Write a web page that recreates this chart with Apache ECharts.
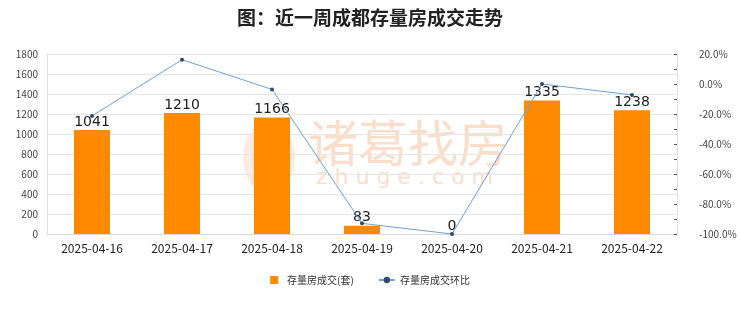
<!DOCTYPE html>
<html><head><meta charset="utf-8">
<script src="https://cdn.jsdelivr.net/npm/echarts@6/dist/echarts.min.js"></script>
<style>html,body{margin:0;padding:0;background:#fff}#c{width:740px;height:312px}</style>
</head><body><div id="c"></div>
<script>
const categories = ['2025-04-16','2025-04-17','2025-04-18','2025-04-19','2025-04-20','2025-04-21','2025-04-22'];
const volume = [1041, 1210, 1166, 83, 0, 1335, 1238];
const ratio = [-21.3, 16.2, -3.6, -92.9, -100, 0, -7.3];
const leftTicks = [0, 200, 400, 600, 800, 1000, 1200, 1400, 1600, 1800];
const rightTicks = [-100, -80, -60, -40, -20, 0, 20];

const chart = echarts.init(document.getElementById('c'));
const font = '"Noto Sans CJK SC", "Noto Sans", sans-serif';
chart.setOption({
  animation: false,
  backgroundColor: '#fff',
  textStyle: { fontFamily: font },
  title: {
    text: '图：近一周成都存量房成交走势', left: 'center', top: 3,
    textStyle: { fontSize: 19, fontWeight: 'bold', color: '#222', fontFamily: font }
  },
  graphic: [
    { type: 'text', left: 308, top: 118, z: -1, silent: true,
      style: { text: '诸葛找房', fontSize: 50, fill: 'rgba(245,190,150,0.5)', fontFamily: font } },
    { type: 'text', left: 316, top: 167, z: -1, silent: true,
      style: { text: 'z h u g e . c o m', fontSize: 22, fill: 'rgba(245,190,150,0.5)', fontFamily: '"DejaVu Sans", sans-serif' } },
    { type: 'ellipse', left: 243, top: 122, z: -1, silent: true,
      shape: { cx: 0, cy: 0, rx: 26, ry: 36 }, style: { fill: 'rgba(245,190,150,0.3)' } }
  ],
  legend: {
    bottom: 22, left: 'center', itemWidth: 16, itemHeight: 8, itemGap: 24,
    textStyle: { fontSize: 10, color: '#333' },
    data: [{ name: '存量房成交(套)', icon: 'path://M0,0H10V10H0Z' }, { name: '存量房成交环比' }]
  },
  grid: { left: 47, right: 63, top: 54, bottom: 78 },
  xAxis: {
    type: 'category', data: categories,
    axisLine: { lineStyle: { color: '#d9d9d9' } },
    axisTick: { show: false },
    axisLabel: { fontSize: 12, color: '#222', margin: 8 }
  },
  yAxis: [
    { type: 'value', min: leftTicks[0], max: leftTicks[leftTicks.length - 1], interval: 200,
      axisLine: { show: true, lineStyle: { color: '#e0e0e0' } },
      axisTick: { show: false },
      axisLabel: { fontSize: 10, color: '#444', margin: 9, formatter: v => String(v) },
      splitLine: { lineStyle: { color: '#e6e6e6' } } },
    { type: 'value', min: rightTicks[0], max: rightTicks[rightTicks.length - 1], interval: 10,
      axisLine: { show: true, lineStyle: { color: '#e0e0e0' } },
      axisTick: { show: true, inside: true, length: 3, lineStyle: { color: '#555' } },
      axisLabel: { fontSize: 10, color: '#444', margin: 22,
        formatter: v => (rightTicks.indexOf(v) >= 0 ? v.toFixed(1) + '%' : '') },
      splitLine: { show: false } }
  ],
  series: [
    { name: '存量房成交(套)', type: 'bar', data: volume, barWidth: 36, z: 2,
      itemStyle: { color: '#ff8a00' },
      label: { show: true, position: 'top', fontSize: 14, color: '#222', distance: 1,
        fontFamily: '"DejaVu Sans", sans-serif' } },
    { name: '存量房成交环比', type: 'line', yAxisIndex: 1, data: ratio, z: 3,
      symbol: 'circle', symbolSize: 4,
      lineStyle: { color: '#6fa0d8', width: 1 },
      itemStyle: { color: '#2c4a6e' } }
  ]
});
</script></body></html>
